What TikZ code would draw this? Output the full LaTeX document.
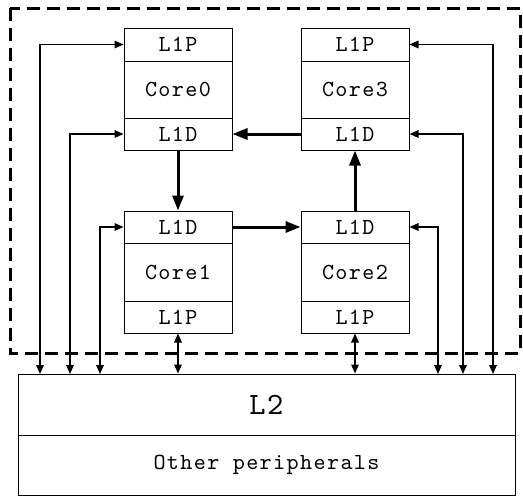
\documentclass[tikz,border=0pt]{standalone}
\usepackage{fontspec}
\newfontfamily\cellfont{lmmono10-regular.otf}[LetterSpace=6]
\newfontfamily\bigfont{lmmono10-regular.otf}[LetterSpace=5]
\usetikzlibrary{arrows.meta}
\begin{document}
\begin{tikzpicture}[x=1pt,y=-1pt,
  cell/.style={draw, line width=1pt, minimum width=108pt, inner sep=0pt,
    font=\fontsize{23}{23}\cellfont},
  bus/.style={line width=1.6pt, {Triangle[length=9pt,width=7.5pt]}-{Triangle[length=9pt,width=7.5pt]}},
  ring/.style={line width=3pt, -{Triangle[length=15pt,width=11pt]}},
  frame/.style={line width=3pt, dash pattern=on 13pt off 7pt}]
\useasboundingbox (0,0) rectangle (523,496);

% cluster boundary
\draw[frame] (10,8) rectangle (520,353);

% Core0 (top left)
\node[cell, minimum height=33pt] (c0p) at (178,44.5) {L1P};
\node[cell, minimum height=57pt] (c0)  at (178,89.5) {Core0};
\node[cell, minimum height=32pt] (c0d) at (178,134)  {L1D};
% Core3 (top right)
\node[cell, minimum height=33pt] (c3p) at (355,44.5) {L1P};
\node[cell, minimum height=57pt] (c3)  at (355,89.5) {Core3};
\node[cell, minimum height=32pt] (c3d) at (355,134)  {L1D};
% Core1 (bottom left)
\node[cell, minimum height=32pt] (c1d) at (178,227) {L1D};
\node[cell, minimum height=58pt] (c1)  at (178,272) {Core1};
\node[cell, minimum height=32pt] (c1p) at (178,317) {L1P};
% Core2 (bottom right)
\node[cell, minimum height=32pt] (c2d) at (355,227) {L1D};
\node[cell, minimum height=58pt] (c2)  at (355,272) {Core2};
\node[cell, minimum height=32pt] (c2p) at (355,317) {L1P};

% shared L2 and peripherals
\node[cell, minimum width=497pt, minimum height=61pt,
  font=\fontsize{31}{31}\bigfont] (l2) at (266.5,404.5) {L2};
\node[cell, minimum width=497pt, minimum height=60pt] (per) at (266.5,465) {Other peripherals};

% drop points on top of L2
\coordinate (t1) at (40,374);
\coordinate (t2) at (70,374);
\coordinate (t3) at (100,374);
\coordinate (t6) at (438,374);
\coordinate (t7) at (463,374);
\coordinate (t8) at (493,374);

% L1 caches to L2
\draw[bus] (c0p.west) -| (t1);
\draw[bus] (c0d.west) -| (t2);
\draw[bus] (c1d.west) -| (t3);
\draw[bus] (c2d.east) -| (t6);
\draw[bus] (c3d.east) -| (t7);
\draw[bus] (c3p.east) -| (t8);
\draw[bus] (c1p.south) -- (c1p.south |- l2.north);
\draw[bus] (c2p.south) -- (c2p.south |- l2.north);

% ring between the L1D caches
\draw[ring] (c0d.south) -- (c1d.north);
\draw[ring] (c1d.east) -- (c2d.west);
\draw[ring] (c2d.north) -- (c3d.south);
\draw[ring] (c3d.west) -- (c0d.east);
\end{tikzpicture}
\end{document}
